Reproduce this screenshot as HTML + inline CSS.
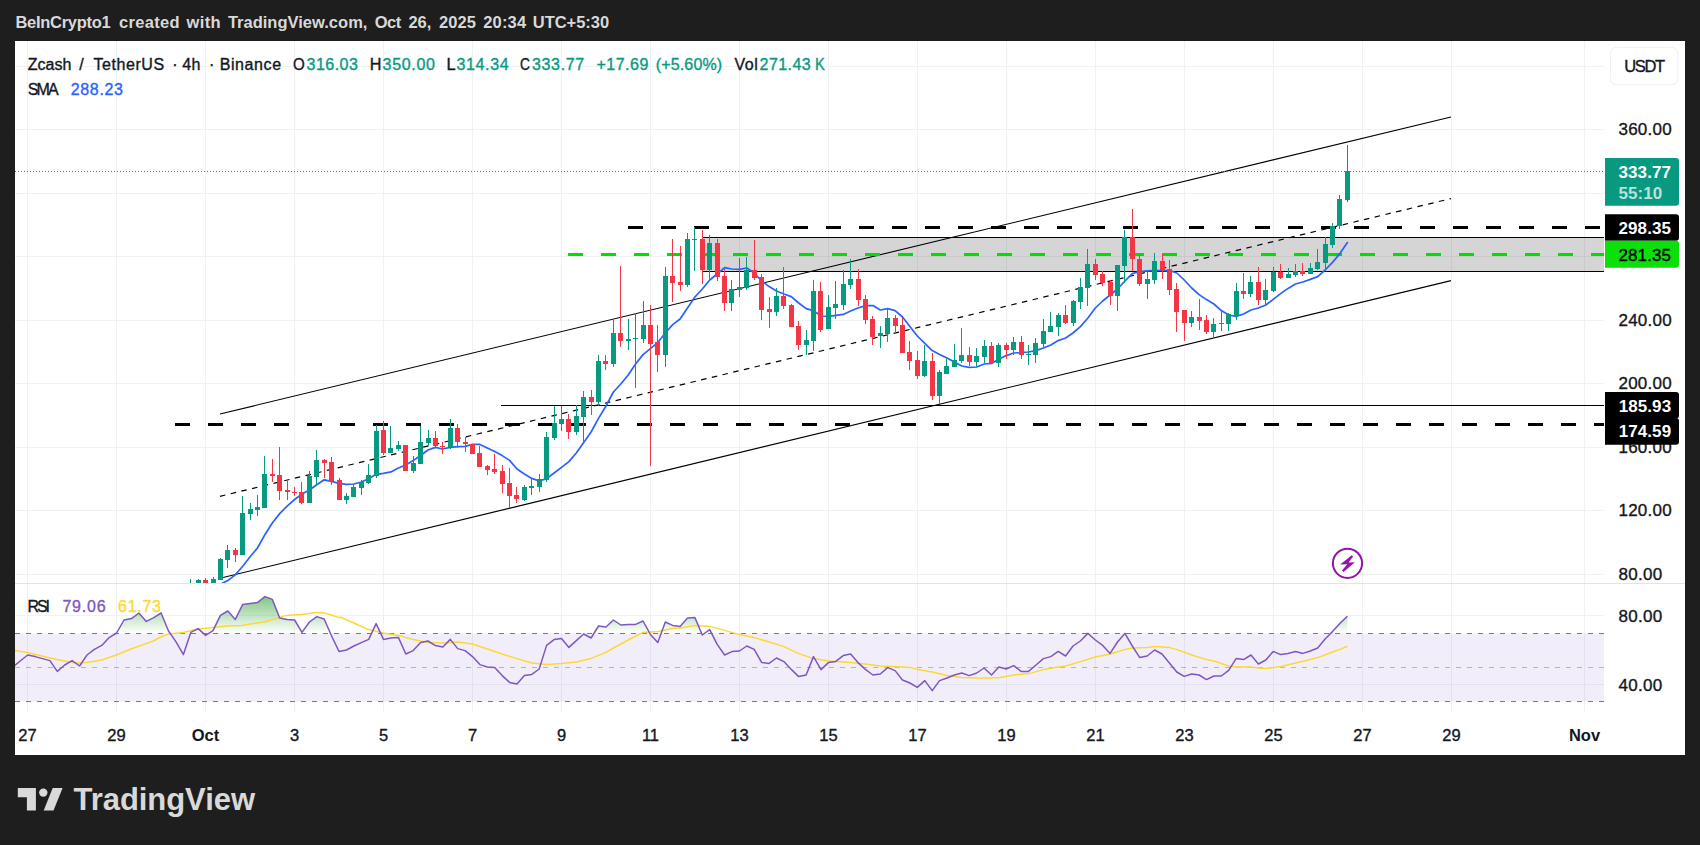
<!DOCTYPE html>
<html lang="en"><head><meta charset="utf-8"><title>ZECUSDT chart</title>
<style>
html,body{margin:0;padding:0;background:#1e1e1e;}
body{width:1700px;height:845px;overflow:hidden;position:relative;font-family:"Liberation Sans", "DejaVu Sans", sans-serif;}
#panel{position:absolute;left:15px;top:41px;width:1670px;height:714px;background:#fff;}
svg{position:absolute;left:0;top:0;}
text{font-family:"Liberation Sans", "DejaVu Sans", sans-serif;}
</style></head><body>
<div id="panel"></div>
<svg width="1700" height="845" viewBox="0 0 1700 845">
<defs>
<clipPath id="cpMain"><rect x="15" y="41" width="1589" height="542"/></clipPath>
<clipPath id="cpRsi"><rect x="15" y="584" width="1589" height="129"/></clipPath>
<linearGradient id="obGrad" gradientUnits="userSpaceOnUse" x1="0" y1="581.6" x2="0" y2="633.4"><stop offset="0" stop-color="#4caf50" stop-opacity="1"/><stop offset="1" stop-color="#4caf50" stop-opacity="0"/></linearGradient>
</defs>
<g id="grid" shape-rendering="crispEdges"><rect x="27" y="41" width="1" height="672" fill="#f0f1f3"/><rect x="116" y="41" width="1" height="672" fill="#f0f1f3"/><rect x="205" y="41" width="1" height="672" fill="#f0f1f3"/><rect x="294" y="41" width="1" height="672" fill="#f0f1f3"/><rect x="383" y="41" width="1" height="672" fill="#f0f1f3"/><rect x="472" y="41" width="1" height="672" fill="#f0f1f3"/><rect x="561" y="41" width="1" height="672" fill="#f0f1f3"/><rect x="650" y="41" width="1" height="672" fill="#f0f1f3"/><rect x="739" y="41" width="1" height="672" fill="#f0f1f3"/><rect x="828" y="41" width="1" height="672" fill="#f0f1f3"/><rect x="917" y="41" width="1" height="672" fill="#f0f1f3"/><rect x="1006" y="41" width="1" height="672" fill="#f0f1f3"/><rect x="1095" y="41" width="1" height="672" fill="#f0f1f3"/><rect x="1184" y="41" width="1" height="672" fill="#f0f1f3"/><rect x="1273" y="41" width="1" height="672" fill="#f0f1f3"/><rect x="1362" y="41" width="1" height="672" fill="#f0f1f3"/><rect x="1451" y="41" width="1" height="672" fill="#f0f1f3"/><rect x="1584" y="41" width="1" height="672" fill="#f0f1f3"/><rect x="15" y="66" width="1589" height="1" fill="#f0f1f3"/><rect x="15" y="129" width="1589" height="1" fill="#f0f1f3"/><rect x="15" y="193" width="1589" height="1" fill="#f0f1f3"/><rect x="15" y="256" width="1589" height="1" fill="#f0f1f3"/><rect x="15" y="320" width="1589" height="1" fill="#f0f1f3"/><rect x="15" y="383" width="1589" height="1" fill="#f0f1f3"/><rect x="15" y="447" width="1589" height="1" fill="#f0f1f3"/><rect x="15" y="510" width="1589" height="1" fill="#f0f1f3"/><rect x="15" y="574" width="1589" height="1" fill="#f0f1f3"/><rect x="15" y="615" width="1589" height="1" fill="#f0f1f3"/><rect x="15" y="684" width="1589" height="1" fill="#f0f1f3"/></g>
<rect x="15" y="583" width="1670" height="1" fill="#e0e3eb" shape-rendering="crispEdges"/>
<g id="rsi" clip-path="url(#cpRsi)">
<rect x="15" y="633.4" width="1590" height="68" fill="#7e57c2" fill-opacity="0.1"/>
<polygon fill="url(#obGrad)" points="116.0,633.4 116.6,633.0 124.0,620.0 131.5,618.6 138.9,613.0 146.3,621.4 153.7,617.6 161.1,613.0 168.5,631.0 170.2,633.4"/>
<polygon fill="url(#obGrad)" points="190.4,633.4 190.8,632.4 198.2,628.6 203.4,633.4"/>
<polygon fill="url(#obGrad)" points="208.7,633.4 213.0,630.6 220.4,615.4 227.8,611.0 235.3,619.4 242.7,604.4 250.1,603.4 257.5,602.6 264.9,596.6 272.3,599.4 279.7,618.0 287.1,619.6 294.6,620.0 302.0,632.4 309.4,622.0 316.8,616.6 324.2,619.0 330.5,633.4"/>
<polygon fill="url(#obGrad)" points="371.5,633.4 376.1,623.6 380.7,633.4"/>
<polygon fill="url(#obGrad)" points="594.0,633.4 598.5,626.0 606.0,627.0 613.4,620.0 620.8,625.0 628.2,624.6 635.6,624.4 643.0,621.0 649.9,633.4"/>
<polygon fill="url(#obGrad)" points="661.1,633.4 665.3,622.0 672.7,625.4 680.1,626.4 687.5,618.0 694.9,617.6 701.7,633.4"/>
<polygon fill="url(#obGrad)" points="704.5,633.4 709.7,629.6 711.7,633.4"/>
<polygon fill="url(#obGrad)" points="1330.7,633.4 1332.5,631.6 1339.9,623.4 1347.4,616.2 1347.4,633.4"/>
<g fill="none" stroke-width="1" shape-rendering="crispEdges">
<line x1="15" x2="1605" y1="633.5" y2="633.5" stroke="#787b86" stroke-dasharray="5 6"/>
<line x1="15" x2="1605" y1="667.5" y2="667.5" stroke="#787b86" stroke-opacity="0.5" stroke-dasharray="5 6"/>
<line x1="15" x2="1605" y1="701.5" y2="701.5" stroke="#787b86" stroke-dasharray="5 6"/>
</g>
<polyline fill="none" stroke="#fdd835" stroke-width="1.5" stroke-linejoin="round" points="6.0,650.0 15.0,650.6 27.6,652.4 42.0,656.0 57.0,659.6 72.0,662.4 79.4,663.0 87.0,662.6 101.6,660.0 116.4,655.0 131.0,649.0 146.0,643.6 153.4,641.0 160.8,637.0 168.4,634.0 183.0,632.6 198.0,629.0 212.8,627.6 227.6,626.0 241.4,625.4 256.4,623.0 264.0,622.0 279.0,617.6 286.4,615.4 301.4,614.6 316.4,612.6 324.0,613.0 331.4,615.0 339.0,617.6 340.0,617.0 353.8,623.0 368.6,629.6 383.4,633.0 398.4,635.4 413.2,639.6 428.0,642.6 442.8,643.0 457.6,642.0 472.4,644.0 487.4,649.0 502.2,654.0 517.0,658.6 531.8,663.0 546.6,664.6 561.4,663.6 576.2,662.0 591.0,658.4 606.0,652.4 613.4,648.0 628.2,640.0 643.0,632.4 657.8,631.6 672.6,628.6 680.2,628.0 695.0,625.6 709.8,626.4 724.6,630.4 739.4,634.6 754.2,637.6 769.2,642.0 784.0,646.6 798.8,653.6 813.6,658.6 828.4,661.0 843.2,662.0 850.6,662.6 865.4,664.0 880.2,666.0 895.2,666.6 910.0,667.4 917.4,669.4 932.2,672.0 947.0,675.4 961.8,677.6 976.8,678.0 991.6,678.0 1000.0,677.6 1014.0,675.0 1028.8,673.6 1043.6,669.6 1058.4,667.0 1065.8,666.0 1080.6,661.6 1095.4,657.0 1110.4,654.0 1125.2,649.4 1132.6,648.0 1147.4,647.4 1154.8,646.6 1169.6,647.6 1177.0,649.6 1191.8,655.0 1206.6,659.6 1214.0,661.0 1228.8,666.0 1236.2,667.0 1251.0,667.0 1258.6,668.0 1266.0,668.6 1280.8,666.6 1295.6,663.0 1310.4,659.4 1317.8,657.6 1332.6,652.0 1340.0,649.4 1347.4,646.2"/>
<polyline fill="none" stroke="#7e57c2" stroke-width="1.5" stroke-linejoin="round" points="5.4,669.0 12.8,667.0 20.2,661.0 27.7,655.0 35.1,656.6 42.5,658.6 49.9,660.6 57.3,671.4 64.7,665.0 72.1,660.6 79.6,666.0 87.0,655.0 94.4,649.4 101.8,645.4 109.2,637.6 116.6,633.0 124.0,620.0 131.5,618.6 138.9,613.0 146.3,621.4 153.7,617.6 161.1,613.0 168.5,631.0 175.9,641.6 183.4,654.6 190.8,632.4 198.2,628.6 205.6,635.4 213.0,630.6 220.4,615.4 227.8,611.0 235.3,619.4 242.7,604.4 250.1,603.4 257.5,602.6 264.9,596.6 272.3,599.4 279.7,618.0 287.1,619.6 294.6,620.0 302.0,632.4 309.4,622.0 316.8,616.6 324.2,619.0 331.6,636.0 339.0,651.4 346.5,650.0 353.9,646.0 361.3,642.6 368.7,639.4 376.1,623.6 383.5,639.4 390.9,638.0 398.4,637.4 405.8,654.0 413.2,650.6 420.6,642.6 428.0,641.0 435.4,645.6 442.8,647.0 450.3,639.4 457.7,648.6 465.1,650.6 472.5,656.6 479.9,664.6 487.3,667.0 494.7,667.6 502.2,675.6 509.6,682.4 517.0,684.0 524.4,675.4 531.8,674.4 539.2,669.0 546.6,645.4 554.1,639.6 561.5,638.4 568.9,647.4 576.3,640.6 583.7,634.0 591.1,638.0 598.5,626.0 606.0,627.0 613.4,620.0 620.8,625.0 628.2,624.6 635.6,624.4 643.0,621.0 650.4,634.4 657.8,642.4 665.3,622.0 672.7,625.4 680.1,626.4 687.5,618.0 694.9,617.6 702.3,635.0 709.7,629.6 717.2,644.4 724.6,655.0 732.0,651.6 739.4,651.0 746.8,646.0 754.2,649.4 761.6,662.4 769.1,663.4 776.5,658.0 783.9,661.6 791.3,669.4 798.7,676.6 806.1,675.0 813.5,656.6 821.0,669.6 828.4,662.6 835.8,661.4 843.2,655.6 850.6,654.0 858.0,662.6 865.4,669.4 872.9,675.0 880.3,674.0 887.7,667.6 895.1,670.6 902.5,680.0 909.9,683.0 917.3,687.4 924.8,680.6 932.2,690.6 939.6,680.6 947.0,678.0 954.4,675.0 961.8,673.0 969.2,675.6 976.7,673.0 984.1,668.0 991.5,675.0 998.9,667.0 1006.3,669.0 1013.7,665.6 1021.1,671.4 1028.5,671.4 1036.0,665.0 1043.4,658.6 1050.8,656.6 1058.2,651.4 1065.6,656.0 1073.0,646.0 1080.4,641.0 1087.9,633.4 1095.3,640.0 1102.7,645.4 1110.1,653.4 1117.5,642.0 1124.9,633.4 1132.3,646.0 1139.8,657.6 1147.2,656.0 1154.6,650.0 1162.0,654.0 1169.4,663.0 1176.8,672.0 1184.2,676.4 1191.7,674.0 1199.1,675.0 1206.5,679.6 1213.9,676.0 1221.3,676.0 1228.7,670.4 1236.1,658.6 1243.6,659.6 1251.0,655.0 1258.4,664.0 1265.8,660.0 1273.2,651.4 1280.6,654.6 1288.0,653.4 1295.5,651.6 1302.9,653.4 1310.3,651.0 1317.7,648.0 1325.1,639.0 1332.5,631.6 1339.9,623.4 1347.4,616.2"/>
</g>
<g id="main" clip-path="url(#cpMain)">
<rect x="702.5" y="237.5" width="905" height="34" fill="#000" fill-opacity="0.165" stroke="#000" stroke-width="1" shape-rendering="crispEdges"/>
<line x1="220" y1="414" x2="1451" y2="117" stroke="#000" stroke-width="1.1"/>
<line x1="222" y1="577.7" x2="1451" y2="280.6" stroke="#000" stroke-width="1.1"/>
<line x1="220" y1="496.3" x2="1451" y2="198.6" stroke="#000" stroke-width="1.2" stroke-dasharray="5.5 5.5"/>
<rect x="501" y="405" width="1104" height="1" fill="#000" shape-rendering="crispEdges"/>
<g shape-rendering="crispEdges" stroke-width="3" stroke-dasharray="15 18">
<line x1="175" x2="1605" y1="424.5" y2="424.5" stroke="#000"/>
<line x1="628" x2="1605" y1="227.5" y2="227.5" stroke="#000"/>
<line x1="568" x2="1605" y1="254.5" y2="254.5" stroke="#00e000"/>
</g>
<line x1="15" x2="1605" y1="171.5" y2="171.5" stroke="#089981" stroke-width="1" stroke-dasharray="1 2" shape-rendering="crispEdges"/>
<polyline fill="none" stroke="#2962ff" stroke-width="1.7" stroke-linejoin="round" stroke-linecap="round" points="205.6,589.0 213.0,587.0 220.4,584.2 227.8,580.6 235.3,574.9 242.7,566.3 250.1,556.8 257.5,548.0 264.9,534.7 272.3,523.0 279.7,513.6 287.1,506.1 294.6,499.5 302.0,494.0 309.4,490.0 316.8,484.8 324.2,479.8 331.6,481.4 339.0,483.4 346.5,484.4 353.9,484.0 361.3,482.0 368.7,478.8 376.1,474.3 383.5,473.3 390.9,471.9 398.4,468.0 405.8,465.0 413.2,460.6 420.6,455.5 428.0,450.0 435.4,447.4 442.8,449.0 450.3,447.4 457.7,446.6 465.1,446.4 472.5,444.4 479.9,444.4 487.3,448.0 494.7,451.6 502.2,455.6 509.6,460.4 517.0,469.0 524.4,474.0 531.8,478.4 539.2,481.0 546.6,478.6 554.1,473.0 561.5,467.4 568.9,461.6 576.3,453.0 583.7,442.4 591.1,432.0 598.5,418.4 606.0,406.0 613.4,392.0 620.8,384.0 628.2,375.0 635.6,364.0 643.0,354.6 650.4,348.6 657.8,342.6 665.3,333.0 672.7,324.6 680.1,319.0 687.5,308.0 694.9,297.0 702.3,289.0 709.7,280.0 717.2,274.0 724.6,267.6 732.0,269.0 739.4,269.4 746.8,268.0 754.2,273.0 761.6,281.0 769.1,286.6 776.5,291.0 783.9,294.0 791.3,296.6 798.7,303.0 806.1,308.6 813.5,310.6 821.0,316.0 828.4,316.4 835.8,315.4 843.2,314.4 850.6,311.0 858.0,308.0 865.4,305.6 872.9,305.6 880.3,310.0 887.7,308.6 895.1,310.6 902.5,317.0 909.9,326.6 917.3,336.0 924.8,343.4 932.2,350.6 939.6,354.6 947.0,358.0 954.4,362.0 961.8,366.0 969.2,367.4 976.7,367.0 984.1,364.0 991.5,363.4 998.9,359.0 1006.3,355.6 1013.7,353.0 1021.1,352.6 1028.5,352.0 1036.0,350.6 1043.4,348.0 1050.8,345.0 1058.2,340.6 1065.6,338.0 1073.0,333.0 1080.4,326.6 1087.9,318.0 1095.3,308.0 1102.7,301.0 1110.1,295.0 1117.5,289.0 1124.9,281.0 1132.3,273.6 1139.8,271.5 1147.2,270.8 1154.6,270.6 1162.0,270.6 1169.4,270.5 1176.8,273.0 1184.2,280.0 1191.7,288.0 1199.1,294.6 1206.5,299.6 1213.9,304.0 1221.3,310.6 1228.7,315.0 1236.1,316.4 1243.6,314.0 1251.0,310.0 1258.4,308.0 1265.8,305.0 1273.2,299.4 1280.6,293.6 1288.0,288.4 1295.5,284.0 1302.9,282.0 1310.3,279.4 1317.7,276.6 1325.1,270.0 1332.5,262.4 1339.9,253.6 1347.4,242.6"/>
<g id="candles" shape-rendering="crispEdges"><rect x="190" y="579" width="1" height="11" fill="#089981"/><rect x="188" y="584" width="5" height="6" fill="#089981"/><rect x="198" y="579" width="1" height="11" fill="#089981"/><rect x="196" y="580" width="5" height="10" fill="#089981"/><rect x="205" y="578" width="1" height="12" fill="#f23645"/><rect x="203" y="580" width="5" height="10" fill="#f23645"/><rect x="213" y="577" width="1" height="13" fill="#089981"/><rect x="211" y="579" width="5" height="11" fill="#089981"/><rect x="220" y="558" width="1" height="22" fill="#089981"/><rect x="218" y="559" width="5" height="21" fill="#089981"/><rect x="227" y="545" width="1" height="23" fill="#089981"/><rect x="225" y="550" width="5" height="10" fill="#089981"/><rect x="235" y="548" width="1" height="14" fill="#f23645"/><rect x="233" y="550" width="5" height="5" fill="#f23645"/><rect x="242" y="496" width="1" height="59" fill="#089981"/><rect x="240" y="513" width="5" height="42" fill="#089981"/><rect x="250" y="503" width="1" height="17" fill="#089981"/><rect x="248" y="509" width="5" height="5" fill="#089981"/><rect x="257" y="495" width="1" height="21" fill="#089981"/><rect x="255" y="507" width="5" height="3" fill="#089981"/><rect x="264" y="456" width="1" height="52" fill="#089981"/><rect x="262" y="474" width="5" height="34" fill="#089981"/><rect x="272" y="459" width="1" height="23" fill="#f23645"/><rect x="270" y="474" width="5" height="2" fill="#f23645"/><rect x="279" y="447" width="1" height="53" fill="#f23645"/><rect x="277" y="475" width="5" height="16" fill="#f23645"/><rect x="287" y="480" width="1" height="20" fill="#f23645"/><rect x="285" y="490" width="5" height="2" fill="#f23645"/><rect x="294" y="487" width="1" height="9" fill="#f23645"/><rect x="292" y="492" width="5" height="1" fill="#f23645"/><rect x="301" y="482" width="1" height="22" fill="#f23645"/><rect x="299" y="492" width="5" height="11" fill="#f23645"/><rect x="309" y="471" width="1" height="32" fill="#089981"/><rect x="307" y="476" width="5" height="27" fill="#089981"/><rect x="316" y="450" width="1" height="35" fill="#089981"/><rect x="314" y="460" width="5" height="17" fill="#089981"/><rect x="324" y="459" width="1" height="19" fill="#f23645"/><rect x="322" y="460" width="5" height="3" fill="#f23645"/><rect x="331" y="457" width="1" height="28" fill="#f23645"/><rect x="329" y="462" width="5" height="19" fill="#f23645"/><rect x="339" y="478" width="1" height="22" fill="#f23645"/><rect x="337" y="480" width="5" height="20" fill="#f23645"/><rect x="346" y="493" width="1" height="11" fill="#089981"/><rect x="344" y="496" width="5" height="4" fill="#089981"/><rect x="353" y="484" width="1" height="13" fill="#089981"/><rect x="351" y="487" width="5" height="10" fill="#089981"/><rect x="361" y="480" width="1" height="15" fill="#089981"/><rect x="359" y="482" width="5" height="6" fill="#089981"/><rect x="368" y="464" width="1" height="20" fill="#089981"/><rect x="366" y="475" width="5" height="8" fill="#089981"/><rect x="376" y="425" width="1" height="53" fill="#089981"/><rect x="374" y="431" width="5" height="45" fill="#089981"/><rect x="383" y="421" width="1" height="34" fill="#f23645"/><rect x="381" y="430" width="5" height="23" fill="#f23645"/><rect x="390" y="426" width="1" height="27" fill="#089981"/><rect x="388" y="448" width="5" height="5" fill="#089981"/><rect x="398" y="441" width="1" height="10" fill="#089981"/><rect x="396" y="445" width="5" height="4" fill="#089981"/><rect x="405" y="445" width="1" height="26" fill="#f23645"/><rect x="403" y="445" width="5" height="26" fill="#f23645"/><rect x="413" y="456" width="1" height="17" fill="#089981"/><rect x="411" y="463" width="5" height="8" fill="#089981"/><rect x="420" y="426" width="1" height="38" fill="#089981"/><rect x="418" y="442" width="5" height="22" fill="#089981"/><rect x="428" y="430" width="1" height="16" fill="#089981"/><rect x="426" y="438" width="5" height="5" fill="#089981"/><rect x="435" y="431" width="1" height="16" fill="#f23645"/><rect x="433" y="438" width="5" height="8" fill="#f23645"/><rect x="442" y="442" width="1" height="12" fill="#f23645"/><rect x="440" y="446" width="5" height="1" fill="#f23645"/><rect x="450" y="419" width="1" height="30" fill="#089981"/><rect x="448" y="428" width="5" height="19" fill="#089981"/><rect x="457" y="424" width="1" height="24" fill="#f23645"/><rect x="455" y="428" width="5" height="14" fill="#f23645"/><rect x="465" y="437" width="1" height="15" fill="#f23645"/><rect x="463" y="442" width="5" height="2" fill="#f23645"/><rect x="472" y="444" width="1" height="10" fill="#f23645"/><rect x="470" y="444" width="5" height="10" fill="#f23645"/><rect x="479" y="446" width="1" height="21" fill="#f23645"/><rect x="477" y="453" width="5" height="14" fill="#f23645"/><rect x="487" y="465" width="1" height="10" fill="#f23645"/><rect x="485" y="466" width="5" height="4" fill="#f23645"/><rect x="494" y="454" width="1" height="20" fill="#f23645"/><rect x="492" y="469" width="5" height="3" fill="#f23645"/><rect x="502" y="465" width="1" height="28" fill="#f23645"/><rect x="500" y="471" width="5" height="13" fill="#f23645"/><rect x="509" y="468" width="1" height="40" fill="#f23645"/><rect x="507" y="483" width="5" height="13" fill="#f23645"/><rect x="516" y="487" width="1" height="16" fill="#f23645"/><rect x="514" y="495" width="5" height="4" fill="#f23645"/><rect x="524" y="485" width="1" height="16" fill="#089981"/><rect x="522" y="487" width="5" height="13" fill="#089981"/><rect x="531" y="479" width="1" height="16" fill="#089981"/><rect x="529" y="486" width="5" height="2" fill="#089981"/><rect x="539" y="474" width="1" height="18" fill="#089981"/><rect x="537" y="479" width="5" height="8" fill="#089981"/><rect x="546" y="432" width="1" height="50" fill="#089981"/><rect x="544" y="437" width="5" height="43" fill="#089981"/><rect x="554" y="406" width="1" height="34" fill="#089981"/><rect x="552" y="423" width="5" height="15" fill="#089981"/><rect x="561" y="406" width="1" height="25" fill="#089981"/><rect x="559" y="419" width="5" height="5" fill="#089981"/><rect x="568" y="414" width="1" height="25" fill="#f23645"/><rect x="566" y="419" width="5" height="13" fill="#f23645"/><rect x="576" y="405" width="1" height="30" fill="#089981"/><rect x="574" y="416" width="5" height="16" fill="#089981"/><rect x="583" y="391" width="1" height="51" fill="#089981"/><rect x="581" y="397" width="5" height="20" fill="#089981"/><rect x="591" y="390" width="1" height="25" fill="#f23645"/><rect x="589" y="397" width="5" height="5" fill="#f23645"/><rect x="598" y="355" width="1" height="51" fill="#089981"/><rect x="596" y="361" width="5" height="41" fill="#089981"/><rect x="605" y="355" width="1" height="15" fill="#f23645"/><rect x="603" y="361" width="5" height="3" fill="#f23645"/><rect x="613" y="320" width="1" height="47" fill="#089981"/><rect x="611" y="333" width="5" height="31" fill="#089981"/><rect x="620" y="266" width="1" height="81" fill="#f23645"/><rect x="618" y="333" width="5" height="8" fill="#f23645"/><rect x="628" y="319" width="1" height="31" fill="#089981"/><rect x="626" y="339" width="5" height="2" fill="#089981"/><rect x="635" y="313" width="1" height="75" fill="#089981"/><rect x="633" y="338" width="5" height="1" fill="#089981"/><rect x="643" y="301" width="1" height="42" fill="#089981"/><rect x="641" y="325" width="5" height="14" fill="#089981"/><rect x="650" y="305" width="1" height="161" fill="#f23645"/><rect x="648" y="325" width="5" height="19" fill="#f23645"/><rect x="657" y="325" width="1" height="47" fill="#f23645"/><rect x="655" y="342" width="5" height="13" fill="#f23645"/><rect x="665" y="267" width="1" height="100" fill="#089981"/><rect x="663" y="276" width="5" height="79" fill="#089981"/><rect x="672" y="239" width="1" height="63" fill="#f23645"/><rect x="670" y="276" width="5" height="7" fill="#f23645"/><rect x="680" y="246" width="1" height="45" fill="#f23645"/><rect x="678" y="282" width="5" height="3" fill="#f23645"/><rect x="687" y="233" width="1" height="54" fill="#089981"/><rect x="685" y="239" width="5" height="46" fill="#089981"/><rect x="694" y="227" width="1" height="44" fill="#089981"/><rect x="692" y="239" width="5" height="1" fill="#089981"/><rect x="702" y="230" width="1" height="54" fill="#f23645"/><rect x="700" y="239" width="5" height="31" fill="#f23645"/><rect x="709" y="235" width="1" height="46" fill="#089981"/><rect x="707" y="243" width="5" height="27" fill="#089981"/><rect x="717" y="239" width="1" height="42" fill="#f23645"/><rect x="715" y="243" width="5" height="34" fill="#f23645"/><rect x="724" y="269" width="1" height="42" fill="#f23645"/><rect x="722" y="276" width="5" height="27" fill="#f23645"/><rect x="731" y="280" width="1" height="31" fill="#089981"/><rect x="729" y="289" width="5" height="14" fill="#089981"/><rect x="739" y="258" width="1" height="39" fill="#089981"/><rect x="737" y="287" width="5" height="3" fill="#089981"/><rect x="746" y="257" width="1" height="33" fill="#089981"/><rect x="744" y="270" width="5" height="18" fill="#089981"/><rect x="754" y="240" width="1" height="40" fill="#f23645"/><rect x="752" y="270" width="5" height="8" fill="#f23645"/><rect x="761" y="274" width="1" height="46" fill="#f23645"/><rect x="759" y="277" width="5" height="33" fill="#f23645"/><rect x="769" y="297" width="1" height="31" fill="#f23645"/><rect x="767" y="309" width="5" height="3" fill="#f23645"/><rect x="776" y="288" width="1" height="28" fill="#089981"/><rect x="774" y="296" width="5" height="16" fill="#089981"/><rect x="783" y="267" width="1" height="42" fill="#f23645"/><rect x="781" y="296" width="5" height="10" fill="#f23645"/><rect x="791" y="304" width="1" height="23" fill="#f23645"/><rect x="789" y="305" width="5" height="22" fill="#f23645"/><rect x="798" y="321" width="1" height="29" fill="#f23645"/><rect x="796" y="326" width="5" height="19" fill="#f23645"/><rect x="806" y="330" width="1" height="25" fill="#089981"/><rect x="804" y="340" width="5" height="5" fill="#089981"/><rect x="813" y="280" width="1" height="71" fill="#089981"/><rect x="811" y="291" width="5" height="50" fill="#089981"/><rect x="820" y="282" width="1" height="50" fill="#f23645"/><rect x="818" y="291" width="5" height="39" fill="#f23645"/><rect x="828" y="295" width="1" height="34" fill="#089981"/><rect x="826" y="307" width="5" height="22" fill="#089981"/><rect x="835" y="281" width="1" height="38" fill="#089981"/><rect x="833" y="304" width="5" height="4" fill="#089981"/><rect x="843" y="270" width="1" height="40" fill="#089981"/><rect x="841" y="284" width="5" height="21" fill="#089981"/><rect x="850" y="259" width="1" height="30" fill="#089981"/><rect x="848" y="279" width="5" height="6" fill="#089981"/><rect x="858" y="269" width="1" height="37" fill="#f23645"/><rect x="856" y="279" width="5" height="21" fill="#f23645"/><rect x="865" y="295" width="1" height="29" fill="#f23645"/><rect x="863" y="299" width="5" height="21" fill="#f23645"/><rect x="872" y="316" width="1" height="29" fill="#f23645"/><rect x="870" y="319" width="5" height="18" fill="#f23645"/><rect x="880" y="326" width="1" height="22" fill="#089981"/><rect x="878" y="333" width="5" height="3" fill="#089981"/><rect x="887" y="309" width="1" height="33" fill="#089981"/><rect x="885" y="318" width="5" height="16" fill="#089981"/><rect x="895" y="315" width="1" height="18" fill="#f23645"/><rect x="893" y="318" width="5" height="8" fill="#f23645"/><rect x="902" y="318" width="1" height="35" fill="#f23645"/><rect x="900" y="325" width="5" height="28" fill="#f23645"/><rect x="909" y="341" width="1" height="29" fill="#f23645"/><rect x="907" y="352" width="5" height="9" fill="#f23645"/><rect x="917" y="351" width="1" height="28" fill="#f23645"/><rect x="915" y="360" width="5" height="16" fill="#f23645"/><rect x="924" y="345" width="1" height="32" fill="#089981"/><rect x="922" y="361" width="5" height="15" fill="#089981"/><rect x="932" y="353" width="1" height="47" fill="#f23645"/><rect x="930" y="361" width="5" height="35" fill="#f23645"/><rect x="939" y="370" width="1" height="34" fill="#089981"/><rect x="937" y="372" width="5" height="24" fill="#089981"/><rect x="946" y="357" width="1" height="17" fill="#089981"/><rect x="944" y="366" width="5" height="8" fill="#089981"/><rect x="954" y="344" width="1" height="23" fill="#089981"/><rect x="952" y="360" width="5" height="7" fill="#089981"/><rect x="961" y="328" width="1" height="35" fill="#089981"/><rect x="959" y="355" width="5" height="6" fill="#089981"/><rect x="969" y="347" width="1" height="19" fill="#f23645"/><rect x="967" y="355" width="5" height="7" fill="#f23645"/><rect x="976" y="348" width="1" height="19" fill="#089981"/><rect x="974" y="356" width="5" height="6" fill="#089981"/><rect x="984" y="340" width="1" height="23" fill="#089981"/><rect x="982" y="346" width="5" height="11" fill="#089981"/><rect x="991" y="342" width="1" height="21" fill="#f23645"/><rect x="989" y="346" width="5" height="17" fill="#f23645"/><rect x="998" y="343" width="1" height="24" fill="#089981"/><rect x="996" y="345" width="5" height="18" fill="#089981"/><rect x="1006" y="343" width="1" height="16" fill="#f23645"/><rect x="1004" y="345" width="5" height="5" fill="#f23645"/><rect x="1013" y="337" width="1" height="18" fill="#089981"/><rect x="1011" y="342" width="5" height="8" fill="#089981"/><rect x="1021" y="336" width="1" height="23" fill="#f23645"/><rect x="1019" y="342" width="5" height="13" fill="#f23645"/><rect x="1028" y="345" width="1" height="20" fill="#089981"/><rect x="1026" y="354" width="5" height="1" fill="#089981"/><rect x="1035" y="338" width="1" height="25" fill="#089981"/><rect x="1033" y="343" width="5" height="12" fill="#089981"/><rect x="1043" y="319" width="1" height="28" fill="#089981"/><rect x="1041" y="331" width="5" height="13" fill="#089981"/><rect x="1050" y="312" width="1" height="20" fill="#089981"/><rect x="1048" y="326" width="5" height="6" fill="#089981"/><rect x="1058" y="313" width="1" height="23" fill="#089981"/><rect x="1056" y="315" width="5" height="12" fill="#089981"/><rect x="1065" y="305" width="1" height="19" fill="#f23645"/><rect x="1063" y="315" width="5" height="8" fill="#f23645"/><rect x="1073" y="300" width="1" height="26" fill="#089981"/><rect x="1071" y="301" width="5" height="22" fill="#089981"/><rect x="1080" y="278" width="1" height="31" fill="#089981"/><rect x="1078" y="287" width="5" height="15" fill="#089981"/><rect x="1087" y="249" width="1" height="57" fill="#089981"/><rect x="1085" y="264" width="5" height="24" fill="#089981"/><rect x="1095" y="259" width="1" height="21" fill="#f23645"/><rect x="1093" y="264" width="5" height="11" fill="#f23645"/><rect x="1102" y="271" width="1" height="15" fill="#f23645"/><rect x="1100" y="274" width="5" height="9" fill="#f23645"/><rect x="1110" y="280" width="1" height="25" fill="#f23645"/><rect x="1108" y="282" width="5" height="14" fill="#f23645"/><rect x="1117" y="265" width="1" height="46" fill="#089981"/><rect x="1115" y="265" width="5" height="31" fill="#089981"/><rect x="1124" y="230" width="1" height="53" fill="#089981"/><rect x="1122" y="237" width="5" height="29" fill="#089981"/><rect x="1132" y="209" width="1" height="62" fill="#f23645"/><rect x="1130" y="237" width="5" height="22" fill="#f23645"/><rect x="1139" y="255" width="1" height="31" fill="#f23645"/><rect x="1137" y="259" width="5" height="25" fill="#f23645"/><rect x="1147" y="271" width="1" height="28" fill="#089981"/><rect x="1145" y="279" width="5" height="5" fill="#089981"/><rect x="1154" y="253" width="1" height="31" fill="#089981"/><rect x="1152" y="261" width="5" height="19" fill="#089981"/><rect x="1162" y="254" width="1" height="25" fill="#f23645"/><rect x="1160" y="261" width="5" height="9" fill="#f23645"/><rect x="1169" y="260" width="1" height="35" fill="#f23645"/><rect x="1167" y="269" width="5" height="21" fill="#f23645"/><rect x="1176" y="283" width="1" height="49" fill="#f23645"/><rect x="1174" y="289" width="5" height="23" fill="#f23645"/><rect x="1184" y="310" width="1" height="31" fill="#f23645"/><rect x="1182" y="310" width="5" height="13" fill="#f23645"/><rect x="1191" y="311" width="1" height="16" fill="#089981"/><rect x="1189" y="317" width="5" height="6" fill="#089981"/><rect x="1199" y="299" width="1" height="31" fill="#f23645"/><rect x="1197" y="317" width="5" height="4" fill="#f23645"/><rect x="1206" y="315" width="1" height="19" fill="#f23645"/><rect x="1204" y="320" width="5" height="12" fill="#f23645"/><rect x="1213" y="318" width="1" height="20" fill="#089981"/><rect x="1211" y="324" width="5" height="8" fill="#089981"/><rect x="1221" y="310" width="1" height="21" fill="#089981"/><rect x="1219" y="323" width="5" height="1" fill="#089981"/><rect x="1228" y="313" width="1" height="18" fill="#089981"/><rect x="1226" y="314" width="5" height="10" fill="#089981"/><rect x="1236" y="283" width="1" height="37" fill="#089981"/><rect x="1234" y="291" width="5" height="25" fill="#089981"/><rect x="1243" y="273" width="1" height="26" fill="#f23645"/><rect x="1241" y="291" width="5" height="3" fill="#f23645"/><rect x="1250" y="276" width="1" height="21" fill="#089981"/><rect x="1248" y="282" width="5" height="12" fill="#089981"/><rect x="1258" y="267" width="1" height="38" fill="#f23645"/><rect x="1256" y="282" width="5" height="18" fill="#f23645"/><rect x="1265" y="279" width="1" height="27" fill="#089981"/><rect x="1263" y="290" width="5" height="10" fill="#089981"/><rect x="1273" y="267" width="1" height="25" fill="#089981"/><rect x="1271" y="272" width="5" height="19" fill="#089981"/><rect x="1280" y="264" width="1" height="15" fill="#f23645"/><rect x="1278" y="272" width="5" height="6" fill="#f23645"/><rect x="1288" y="268" width="1" height="10" fill="#089981"/><rect x="1286" y="274" width="5" height="4" fill="#089981"/><rect x="1295" y="264" width="1" height="13" fill="#089981"/><rect x="1293" y="271" width="5" height="4" fill="#089981"/><rect x="1302" y="263" width="1" height="13" fill="#f23645"/><rect x="1300" y="271" width="5" height="3" fill="#f23645"/><rect x="1310" y="263" width="1" height="11" fill="#089981"/><rect x="1308" y="268" width="5" height="6" fill="#089981"/><rect x="1317" y="249" width="1" height="21" fill="#089981"/><rect x="1315" y="262" width="5" height="7" fill="#089981"/><rect x="1325" y="237" width="1" height="33" fill="#089981"/><rect x="1323" y="244" width="5" height="19" fill="#089981"/><rect x="1332" y="223" width="1" height="25" fill="#089981"/><rect x="1330" y="226" width="5" height="19" fill="#089981"/><rect x="1339" y="195" width="1" height="34" fill="#089981"/><rect x="1337" y="199" width="5" height="27" fill="#089981"/><rect x="1347" y="145" width="1" height="57" fill="#089981"/><rect x="1345" y="171" width="5" height="29" fill="#089981"/></g>
<circle cx="1347.5" cy="563.3" r="14.6" fill="#fff" stroke="#9114ab" stroke-width="2"/>
<polygon fill="#9114ab" points="1351.8,555.2 1353.1,556.5 1348.5,562.6 1354.9,562.3 1343.5,571.9 1342,570.6 1347.3,564.3 1340.1,564.6"/>
</g>
<text x="15.5" y="28.4" font-size="16.5" font-weight="bold" fill="#d9d9d9" text-anchor="start" textLength="95.2" lengthAdjust="spacing">BeInCrypto1</text>
<text x="118.9" y="28.4" font-size="16.5" font-weight="bold" fill="#d9d9d9" text-anchor="start" textLength="60.7" lengthAdjust="spacing">created</text>
<text x="186.5" y="28.4" font-size="16.5" font-weight="bold" fill="#d9d9d9" text-anchor="start" textLength="34.1" lengthAdjust="spacing">with</text>
<text x="227.9" y="28.4" font-size="16.5" font-weight="bold" fill="#d9d9d9" text-anchor="start" textLength="139.5" lengthAdjust="spacing">TradingView.com,</text>
<text x="374.7" y="28.4" font-size="16.5" font-weight="bold" fill="#d9d9d9" text-anchor="start" textLength="26.5" lengthAdjust="spacing">Oct</text>
<text x="408.5" y="28.4" font-size="16.5" font-weight="bold" fill="#d9d9d9" text-anchor="start" textLength="22.8" lengthAdjust="spacing">26,</text>
<text x="439.1" y="28.4" font-size="16.5" font-weight="bold" fill="#d9d9d9" text-anchor="start" textLength="36.8" lengthAdjust="spacing">2025</text>
<text x="483.2" y="28.4" font-size="16.5" font-weight="bold" fill="#d9d9d9" text-anchor="start" textLength="42.9" lengthAdjust="spacing">20:34</text>
<text x="532.8" y="28.4" font-size="16.5" font-weight="bold" fill="#d9d9d9" text-anchor="start" textLength="76.3" lengthAdjust="spacing">UTC+5:30</text>
<text x="27.7" y="69.7" font-size="16" font-weight="normal" fill="#131722" text-anchor="start" textLength="43.7" lengthAdjust="spacing" stroke="#131722" stroke-width="0.35">Zcash</text>
<text x="79.3" y="69.7" font-size="16" font-weight="normal" fill="#131722" text-anchor="start" stroke="#131722" stroke-width="0.35">/</text>
<text x="93.5" y="69.7" font-size="16" font-weight="normal" fill="#131722" text-anchor="start" textLength="70.6" lengthAdjust="spacing" stroke="#131722" stroke-width="0.35">TetherUS</text>
<text x="172.3" y="69.7" font-size="16" font-weight="normal" fill="#131722" text-anchor="start" stroke="#131722" stroke-width="0.35">·</text>
<text x="182.3" y="69.7" font-size="16" font-weight="normal" fill="#131722" text-anchor="start" textLength="18.2" lengthAdjust="spacing" stroke="#131722" stroke-width="0.35">4h</text>
<text x="208.9" y="69.7" font-size="16" font-weight="normal" fill="#131722" text-anchor="start" stroke="#131722" stroke-width="0.35">·</text>
<text x="219.7" y="69.7" font-size="16" font-weight="normal" fill="#131722" text-anchor="start" textLength="61.4" lengthAdjust="spacing" stroke="#131722" stroke-width="0.35">Binance</text>
<text x="293.1" y="69.7" font-size="16" font-weight="normal" fill="#131722" text-anchor="start" textLength="11.76" lengthAdjust="spacingAndGlyphs" stroke="#131722" stroke-width="0.35">O</text>
<text x="306.5" y="69.7" font-size="16" font-weight="normal" fill="#089981" text-anchor="start" textLength="51.4" lengthAdjust="spacing" stroke="#089981" stroke-width="0.35">316.03</text>
<text x="369.8" y="69.7" font-size="16" font-weight="normal" fill="#131722" text-anchor="start" textLength="11.68" lengthAdjust="spacingAndGlyphs" stroke="#131722" stroke-width="0.35">H</text>
<text x="382.6" y="69.7" font-size="16" font-weight="normal" fill="#089981" text-anchor="start" textLength="52.3" lengthAdjust="spacing" stroke="#089981" stroke-width="0.35">350.00</text>
<text x="446.6" y="69.7" font-size="16" font-weight="normal" fill="#131722" text-anchor="start" textLength="9.17" lengthAdjust="spacingAndGlyphs" stroke="#131722" stroke-width="0.35">L</text>
<text x="456.4" y="69.7" font-size="16" font-weight="normal" fill="#089981" text-anchor="start" textLength="52.3" lengthAdjust="spacing" stroke="#089981" stroke-width="0.35">314.34</text>
<text x="520.1" y="69.7" font-size="16" font-weight="normal" fill="#131722" text-anchor="start" textLength="9.92" lengthAdjust="spacingAndGlyphs" stroke="#131722" stroke-width="0.35">C</text>
<text x="532.1" y="69.7" font-size="16" font-weight="normal" fill="#089981" text-anchor="start" textLength="52.0" lengthAdjust="spacing" stroke="#089981" stroke-width="0.35">333.77</text>
<text x="596.4" y="69.7" font-size="16" font-weight="normal" fill="#089981" text-anchor="start" textLength="52.0" lengthAdjust="spacing" stroke="#089981" stroke-width="0.35">+17.69</text>
<text x="655.7" y="69.7" font-size="16" font-weight="normal" fill="#089981" text-anchor="start" textLength="66.5" lengthAdjust="spacing" stroke="#089981" stroke-width="0.35">(+5.60%)</text>
<text x="734.6" y="69.7" font-size="16" font-weight="normal" fill="#131722" text-anchor="start" textLength="23.2" lengthAdjust="spacing" stroke="#131722" stroke-width="0.35">Vol</text>
<text x="759.6" y="69.7" font-size="16" font-weight="normal" fill="#089981" text-anchor="start" textLength="51.1" lengthAdjust="spacing" stroke="#089981" stroke-width="0.35">271.43</text>
<text x="815.0" y="69.7" font-size="16" font-weight="normal" fill="#089981" text-anchor="start" textLength="9.87" lengthAdjust="spacingAndGlyphs" stroke="#089981" stroke-width="0.35">K</text>
<text x="27.7" y="95.0" font-size="16" font-weight="normal" fill="#131722" text-anchor="start" textLength="31.0" lengthAdjust="spacing" stroke="#131722" stroke-width="0.35">SMA</text>
<text x="70.7" y="95.0" font-size="16" font-weight="normal" fill="#2962ff" text-anchor="start" textLength="52.3" lengthAdjust="spacing" stroke="#2962ff" stroke-width="0.35">288.23</text>
<text x="27.6" y="612.4" font-size="16" font-weight="normal" fill="#131722" text-anchor="start" textLength="22.4" lengthAdjust="spacing" stroke="#131722" stroke-width="0.35">RSI</text>
<text x="62.4" y="612.4" font-size="16" font-weight="normal" fill="#7e57c2" text-anchor="start" textLength="43.2" lengthAdjust="spacing" stroke="#7e57c2" stroke-width="0.35">79.06</text>
<text x="118.0" y="612.4" font-size="16" font-weight="normal" fill="#fdd835" text-anchor="start" textLength="43.0" lengthAdjust="spacing" stroke="#fdd835" stroke-width="0.35">61.73</text>
<rect x="1610.4" y="47.4" width="67.4" height="37.4" rx="6" fill="#fff" stroke="#eef0f3"/>
<text x="1624.3" y="71.5" font-size="16.5" font-weight="normal" fill="#131722" text-anchor="start" textLength="40.7" lengthAdjust="spacing" stroke="#131722" stroke-width="0.35">USDT</text>
<text x="1618.4" y="135.3" font-size="17" font-weight="normal" fill="#131722" text-anchor="start" textLength="53.4" lengthAdjust="spacing" stroke="#131722" stroke-width="0.35">360.00</text>
<text x="1618.4" y="325.8" font-size="17" font-weight="normal" fill="#131722" text-anchor="start" textLength="53.4" lengthAdjust="spacing" stroke="#131722" stroke-width="0.35">240.00</text>
<text x="1618.4" y="389.3" font-size="17" font-weight="normal" fill="#131722" text-anchor="start" textLength="53.4" lengthAdjust="spacing" stroke="#131722" stroke-width="0.35">200.00</text>
<text x="1618.4" y="452.8" font-size="17" font-weight="normal" fill="#131722" text-anchor="start" textLength="53.4" lengthAdjust="spacing" stroke="#131722" stroke-width="0.35">160.00</text>
<text x="1618.4" y="516.3" font-size="17" font-weight="normal" fill="#131722" text-anchor="start" textLength="53.4" lengthAdjust="spacing" stroke="#131722" stroke-width="0.35">120.00</text>
<text x="1618.4" y="579.8" font-size="17" font-weight="normal" fill="#131722" text-anchor="start" textLength="43.9" lengthAdjust="spacing" stroke="#131722" stroke-width="0.35">80.00</text>
<text x="1618.4" y="621.8" font-size="17" font-weight="normal" fill="#131722" text-anchor="start" textLength="43.9" lengthAdjust="spacing" stroke="#131722" stroke-width="0.35">80.00</text>
<text x="1618.4" y="690.8" font-size="17" font-weight="normal" fill="#131722" text-anchor="start" textLength="43.9" lengthAdjust="spacing" stroke="#131722" stroke-width="0.35">40.00</text>
<path d="M1605 158.0 H1676 a3 3 0 0 1 3 3 V202.7 a3 3 0 0 1 -3 3 H1605 Z" fill="#089981"/>
<text x="1618.5" y="177.7" font-size="17" font-weight="bold" fill="#fff" text-anchor="start" textLength="52.5" lengthAdjust="spacing">333.77</text>
<text x="1618.5" y="198.5" font-size="17" font-weight="bold" fill="#fff" text-anchor="start" textLength="43.8" lengthAdjust="spacing" fill-opacity="0.72">55:10</text>
<path d="M1605 214.2 H1676 a3 3 0 0 1 3 3 V237.8 a3 3 0 0 1 -3 3 H1605 Z" fill="#000"/>
<text x="1618.5" y="233.5" font-size="17" font-weight="bold" fill="#fff" text-anchor="start" textLength="52.5" lengthAdjust="spacing">298.35</text>
<path d="M1605 240.8 H1676 a3 3 0 0 1 3 3 V264.7 a3 3 0 0 1 -3 3 H1605 Z" fill="#0be00b"/>
<text x="1618.5" y="260.5" font-size="17" font-weight="normal" fill="#000" text-anchor="start" textLength="52.5" lengthAdjust="spacing" stroke="#000" stroke-width="0.35">281.35</text>
<path d="M1605 392.0 H1676 a3 3 0 0 1 3 3 V415.4 a3 3 0 0 1 -3 3 H1605 Z" fill="#000"/>
<text x="1618.8" y="411.7" font-size="17" font-weight="bold" fill="#fff" text-anchor="start" textLength="52.3" lengthAdjust="spacing">185.93</text>
<path d="M1605 418.0 H1676 a3 3 0 0 1 3 3 V441.8 a3 3 0 0 1 -3 3 H1605 Z" fill="#000"/>
<text x="1618.8" y="437.4" font-size="17" font-weight="bold" fill="#fff" text-anchor="start" textLength="52.3" lengthAdjust="spacing">174.59</text>
<text x="27.5" y="740.6" font-size="16.5" font-weight="normal" fill="#131722" text-anchor="middle" stroke="#131722" stroke-width="0.35">27</text>
<text x="116.5" y="740.6" font-size="16.5" font-weight="normal" fill="#131722" text-anchor="middle" stroke="#131722" stroke-width="0.35">29</text>
<text x="205.5" y="740.6" font-size="16.5" font-weight="bold" fill="#131722" text-anchor="middle">Oct</text>
<text x="294.5" y="740.6" font-size="16.5" font-weight="normal" fill="#131722" text-anchor="middle" stroke="#131722" stroke-width="0.35">3</text>
<text x="383.5" y="740.6" font-size="16.5" font-weight="normal" fill="#131722" text-anchor="middle" stroke="#131722" stroke-width="0.35">5</text>
<text x="472.5" y="740.6" font-size="16.5" font-weight="normal" fill="#131722" text-anchor="middle" stroke="#131722" stroke-width="0.35">7</text>
<text x="561.5" y="740.6" font-size="16.5" font-weight="normal" fill="#131722" text-anchor="middle" stroke="#131722" stroke-width="0.35">9</text>
<text x="650.5" y="740.6" font-size="16.5" font-weight="normal" fill="#131722" text-anchor="middle" stroke="#131722" stroke-width="0.35">11</text>
<text x="739.5" y="740.6" font-size="16.5" font-weight="normal" fill="#131722" text-anchor="middle" stroke="#131722" stroke-width="0.35">13</text>
<text x="828.5" y="740.6" font-size="16.5" font-weight="normal" fill="#131722" text-anchor="middle" stroke="#131722" stroke-width="0.35">15</text>
<text x="917.5" y="740.6" font-size="16.5" font-weight="normal" fill="#131722" text-anchor="middle" stroke="#131722" stroke-width="0.35">17</text>
<text x="1006.5" y="740.6" font-size="16.5" font-weight="normal" fill="#131722" text-anchor="middle" stroke="#131722" stroke-width="0.35">19</text>
<text x="1095.5" y="740.6" font-size="16.5" font-weight="normal" fill="#131722" text-anchor="middle" stroke="#131722" stroke-width="0.35">21</text>
<text x="1184.5" y="740.6" font-size="16.5" font-weight="normal" fill="#131722" text-anchor="middle" stroke="#131722" stroke-width="0.35">23</text>
<text x="1273.5" y="740.6" font-size="16.5" font-weight="normal" fill="#131722" text-anchor="middle" stroke="#131722" stroke-width="0.35">25</text>
<text x="1362.5" y="740.6" font-size="16.5" font-weight="normal" fill="#131722" text-anchor="middle" stroke="#131722" stroke-width="0.35">27</text>
<text x="1451.5" y="740.6" font-size="16.5" font-weight="normal" fill="#131722" text-anchor="middle" stroke="#131722" stroke-width="0.35">29</text>
<text x="1584.5" y="740.6" font-size="16.5" font-weight="bold" fill="#131722" text-anchor="middle">Nov</text>
<polygon fill="#d9d9d9" points="17.8,788.1 35.9,788.1 35.9,810.4 26.9,810.4 26.9,797.2 17.8,797.2"/>
<circle cx="43.3" cy="792.6" r="4.2" fill="#d9d9d9"/>
<polygon fill="#d9d9d9" points="52.7,788.1 62.6,788.1 53.5,810.4 43.7,810.4"/>
<text x="73.6" y="810.4" font-size="31" font-weight="bold" fill="#d9d9d9" text-anchor="start" textLength="181.4" lengthAdjust="spacing">TradingView</text>
</svg>
</body></html>
